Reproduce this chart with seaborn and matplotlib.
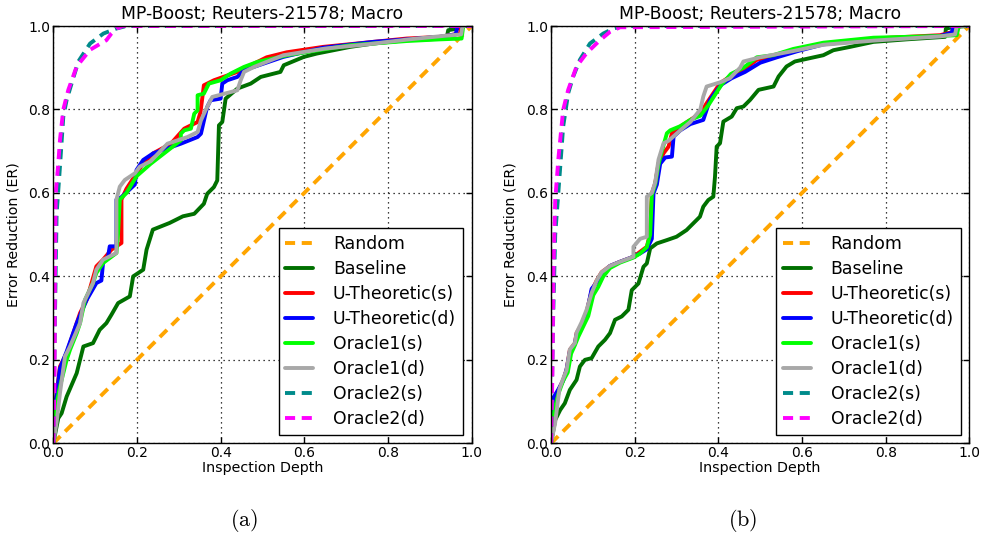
import numpy as np
import matplotlib
matplotlib.use("Agg")
import matplotlib.pyplot as plt
import seaborn as sns

# ---------------- data ----------------
TITLE = "MP-Boost; Reuters-21578; Macro"
XLABEL = "Inspection Depth"
YLABEL = "Error Reduction (ER)"
CAPTIONS = ["(a)", "(b)"]
SERIES = ["Random", "Baseline", "U-Theoretic(s)", "U-Theoretic(d)",
          "Oracle1(s)", "Oracle1(d)", "Oracle2(s)", "Oracle2(d)"]
TICKS = [0.0, 0.2, 0.4, 0.6, 0.8, 1.0]

random_x = [0.0, 1.0]
random_y = [0.0, 1.0]

# ---- panel (a) ----
a_base_x = [0, 0.012, 0.02, 0.032, 0.056, 0.064, 0.072, 0.095, 0.111, 0.127, 0.139, 0.155, 0.183, 0.191, 0.215, 0.223,
            0.238, 0.278, 0.31, 0.337, 0.36, 0.368, 0.384, 0.392, 0.396, 0.404, 0.412, 0.44, 0.472, 0.496, 0.543, 0.551,
            0.599, 0.63, 0.71, 0.765, 0.845, 0.94, 0.944, 0.968, 0.97, 1.0]
a_base_y = [0, 0.06, 0.072, 0.112, 0.168, 0.2, 0.232, 0.24, 0.272, 0.288, 0.308, 0.336, 0.352, 0.4, 0.416, 0.464,
            0.512, 0.528, 0.544, 0.55, 0.574, 0.598, 0.614, 0.63, 0.762, 0.77, 0.826, 0.85, 0.862, 0.878, 0.89, 0.906,
            0.926, 0.934, 0.95, 0.958, 0.966, 0.97, 0.99, 0.994, 1.0, 1.0]

a_uts_x = [0, 0.006, 0.016, 0.032, 0.048, 0.064, 0.08, 0.103, 0.119, 0.139, 0.163, 0.163, 0.175, 0.199, 0.215, 0.239,
           0.281, 0.313, 0.345, 0.352, 0.36, 0.384, 0.44, 0.464, 0.51, 0.558, 0.645, 0.765, 0.845, 0.924, 0.972, 0.976, 1.0]
a_uts_y = [0, 0.104, 0.184, 0.216, 0.264, 0.312, 0.344, 0.424, 0.44, 0.464, 0.48, 0.584, 0.61, 0.647, 0.671, 0.695,
           0.718, 0.754, 0.77, 0.794, 0.858, 0.87, 0.89, 0.902, 0.925, 0.937, 0.95, 0.962, 0.97, 0.974, 0.982, 1.0, 1.0]

a_utd_x = [0, 0.006, 0.016, 0.032, 0.056, 0.08, 0.103, 0.115, 0.119, 0.131, 0.135, 0.151, 0.151, 0.163, 0.179, 0.195,
           0.199, 0.215, 0.239, 0.305, 0.345, 0.353, 0.364, 0.368, 0.376, 0.4, 0.404, 0.416, 0.44, 0.456, 0.55, 0.645,
           0.765, 0.845, 0.924, 0.962, 0.966, 1.0]
a_utd_y = [0, 0.1, 0.18, 0.22, 0.288, 0.344, 0.384, 0.39, 0.432, 0.448, 0.472, 0.472, 0.584, 0.59, 0.605, 0.62,
           0.655, 0.679, 0.695, 0.718, 0.734, 0.742, 0.79, 0.806, 0.822, 0.826, 0.862, 0.87, 0.878, 0.894, 0.926, 0.948,
           0.962, 0.968, 0.974, 0.98, 1.0, 1.0]

a_o1s_x = [0, 0.004, 0.008, 0.016, 0.032, 0.04, 0.056, 0.064, 0.076, 0.095, 0.103, 0.119, 0.151, 0.155, 0.159, 0.175,
           0.199, 0.233, 0.305, 0.305, 0.313, 0.329, 0.337, 0.345, 0.345, 0.36, 0.372, 0.4, 0.424, 0.456, 0.488, 0.56,
           0.608, 0.71, 0.845, 0.924, 0.976, 0.98, 1.0]
a_o1s_y = [0, 0.06, 0.096, 0.136, 0.2, 0.224, 0.264, 0.288, 0.344, 0.384, 0.408, 0.432, 0.456, 0.504, 0.584, 0.6,
           0.64, 0.67, 0.726, 0.742, 0.75, 0.754, 0.79, 0.798, 0.834, 0.838, 0.862, 0.87, 0.886, 0.902, 0.914, 0.93,
           0.938, 0.954, 0.964, 0.968, 0.97, 1.0, 1.0]

a_o1d_x = [0, 0.008, 0.016, 0.028, 0.04, 0.064, 0.072, 0.095, 0.103, 0.119, 0.151, 0.151, 0.159, 0.171, 0.195, 0.207,
           0.233, 0.273, 0.321, 0.345, 0.353, 0.364, 0.38, 0.44, 0.448, 0.456, 0.48, 0.55, 0.65, 0.75, 0.85, 0.93,
           0.975, 0.978, 1.0]
a_o1d_y = [0, 0.05, 0.12, 0.208, 0.232, 0.288, 0.336, 0.384, 0.416, 0.44, 0.456, 0.584, 0.615, 0.631, 0.647, 0.663,
           0.676, 0.718, 0.734, 0.746, 0.774, 0.798, 0.83, 0.846, 0.87, 0.89, 0.902, 0.93, 0.946, 0.956, 0.968, 0.976,
           0.98, 1.0, 1.0]

a_o2s_x = [0, 0.004, 0.008, 0.016, 0.024, 0.032, 0.044, 0.06, 0.088, 0.12, 0.151, 0.175, 1.0]
a_o2s_y = [0, 0.3, 0.55, 0.663, 0.783, 0.823, 0.863, 0.915, 0.958, 0.982, 0.994, 1.0, 1.0]

a_o2d_x = [0, 0.003, 0.004, 0.006, 0.012, 0.016, 0.024, 0.036, 0.056, 0.088, 0.127, 0.139, 0.151, 0.167, 1.0]
a_o2d_y = [0, 0.15, 0.4, 0.6, 0.67, 0.727, 0.8, 0.847, 0.903, 0.943, 0.966, 0.982, 0.994, 1.0, 1.0]

# ---- panel (b) ----
b_base_x = [0, 0.01, 0.022, 0.033, 0.045, 0.061, 0.069, 0.081, 0.097, 0.113, 0.129, 0.141, 0.153, 0.169, 0.185, 0.193,
            0.209, 0.221, 0.229, 0.237, 0.253, 0.277, 0.3, 0.324, 0.34, 0.356, 0.364, 0.376, 0.388, 0.392, 0.396, 0.404,
            0.412, 0.432, 0.444, 0.46, 0.476, 0.496, 0.532, 0.544, 0.563, 0.583, 0.619, 0.651, 0.675, 0.715, 0.771,
            0.85, 0.942, 0.944, 0.966, 1.0]
b_base_y = [0, 0.056, 0.08, 0.096, 0.128, 0.152, 0.184, 0.2, 0.204, 0.232, 0.248, 0.264, 0.296, 0.304, 0.32, 0.367,
            0.383, 0.423, 0.431, 0.467, 0.479, 0.487, 0.495, 0.511, 0.527, 0.543, 0.567, 0.583, 0.591, 0.639, 0.711, 0.719,
            0.771, 0.783, 0.803, 0.807, 0.823, 0.847, 0.855, 0.879, 0.903, 0.915, 0.923, 0.93, 0.942, 0.95, 0.962,
            0.968, 0.974, 0.994, 0.998, 1.0]

b_uts_x = [0, 0.008, 0.018, 0.029, 0.037, 0.045, 0.057, 0.061, 0.073, 0.085, 0.097, 0.109, 0.121, 0.141, 0.165, 0.197,
           0.213, 0.229, 0.237, 0.241, 0.249, 0.257, 0.269, 0.281, 0.289, 0.309, 0.333, 0.357, 0.372, 0.388, 0.404,
           0.428, 0.46, 0.492, 0.531, 0.579, 0.651, 0.771, 0.93, 0.962, 0.966, 1.0]
b_uts_y = [0, 0.1, 0.128, 0.152, 0.176, 0.224, 0.24, 0.264, 0.285, 0.315, 0.365, 0.39, 0.41, 0.425, 0.435, 0.447,
           0.459, 0.471, 0.503, 0.599, 0.623, 0.671, 0.695, 0.711, 0.743, 0.759, 0.775, 0.791, 0.815, 0.839, 0.863,
           0.879, 0.895, 0.919, 0.927, 0.942, 0.958, 0.97, 0.978, 0.986, 1.0, 1.0]

b_utd_x = [0, 0.006, 0.018, 0.029, 0.037, 0.045, 0.057, 0.061, 0.073, 0.085, 0.097, 0.109, 0.121, 0.141, 0.165, 0.197,
           0.213, 0.229, 0.241, 0.245, 0.253, 0.261, 0.273, 0.289, 0.293, 0.309, 0.333, 0.364, 0.38, 0.392, 0.408,
           0.432, 0.464, 0.5, 0.54, 0.59, 0.651, 0.771, 0.93, 0.958, 0.962, 1.0]
b_utd_y = [0, 0.11, 0.13, 0.15, 0.176, 0.22, 0.238, 0.26, 0.28, 0.31, 0.37, 0.385, 0.405, 0.425, 0.435, 0.447,
           0.455, 0.465, 0.49, 0.599, 0.62, 0.67, 0.685, 0.687, 0.735, 0.75, 0.765, 0.775, 0.823, 0.84, 0.86,
           0.875, 0.89, 0.912, 0.925, 0.94, 0.956, 0.968, 0.976, 0.984, 1.0, 1.0]

b_o1s_x = [0, 0.008, 0.018, 0.029, 0.04, 0.048, 0.057, 0.065, 0.077, 0.089, 0.101, 0.113, 0.125, 0.141, 0.165, 0.197,
           0.213, 0.229, 0.237, 0.241, 0.249, 0.257, 0.265, 0.277, 0.285, 0.309, 0.333, 0.357, 0.376, 0.392, 0.408,
           0.43, 0.46, 0.492, 0.531, 0.579, 0.651, 0.771, 0.93, 0.97, 0.975, 1.0]
b_o1s_y = [0, 0.08, 0.12, 0.15, 0.17, 0.215, 0.235, 0.255, 0.28, 0.305, 0.355, 0.375, 0.4, 0.42, 0.433, 0.445,
           0.455, 0.47, 0.5, 0.595, 0.62, 0.668, 0.7, 0.743, 0.75, 0.76, 0.775, 0.785, 0.81, 0.835, 0.86,
           0.885, 0.9, 0.925, 0.93, 0.945, 0.96, 0.972, 0.976, 0.978, 1.0, 1.0]

b_o1d_x = [0, 0.01, 0.02, 0.029, 0.037, 0.045, 0.057, 0.061, 0.073, 0.085, 0.097, 0.109, 0.121, 0.141, 0.165, 0.197,
           0.197, 0.213, 0.229, 0.229, 0.241, 0.249, 0.257, 0.269, 0.281, 0.309, 0.333, 0.357, 0.364, 0.372, 0.404,
           0.428, 0.452, 0.46, 0.5, 0.579, 0.651, 0.771, 0.93, 0.966, 0.97, 1.0]
b_o1d_y = [0, 0.05, 0.13, 0.155, 0.175, 0.225, 0.24, 0.265, 0.29, 0.32, 0.36, 0.39, 0.41, 0.425, 0.435, 0.447,
           0.471, 0.49, 0.495, 0.591, 0.6, 0.625, 0.68, 0.719, 0.725, 0.75, 0.77, 0.8, 0.831, 0.855, 0.865,
           0.875, 0.9, 0.915, 0.925, 0.94, 0.955, 0.965, 0.975, 0.98, 1.0, 1.0]

b_o2s_x = [0, 0.005, 0.01, 0.022, 0.029, 0.041, 0.053, 0.069, 0.093, 0.125, 0.149, 0.173, 1.0]
b_o2s_y = [0, 0.3, 0.5, 0.663, 0.759, 0.839, 0.879, 0.919, 0.958, 0.982, 0.994, 1.0, 1.0]

b_o2d_x = [0, 0.003, 0.006, 0.01, 0.018, 0.029, 0.041, 0.061, 0.085, 0.117, 0.141, 0.165, 1.0]
b_o2d_y = [0, 0.15, 0.423, 0.583, 0.687, 0.799, 0.847, 0.903, 0.935, 0.966, 0.986, 0.997, 1.0]

PANELS = [
    [(random_x, random_y), (a_base_x, a_base_y), (a_uts_x, a_uts_y), (a_utd_x, a_utd_y),
     (a_o1s_x, a_o1s_y), (a_o1d_x, a_o1d_y), (a_o2s_x, a_o2s_y), (a_o2d_x, a_o2d_y)],
    [(random_x, random_y), (b_base_x, b_base_y), (b_uts_x, b_uts_y), (b_utd_x, b_utd_y),
     (b_o1s_x, b_o1s_y), (b_o1d_x, b_o1d_y), (b_o2s_x, b_o2s_y), (b_o2d_x, b_o2d_y)],
]

# ---------------- style ----------------
COLORS = ["#FFA500", "#007000", "#FF0000", "#0000FF", "#00FF00", "#A8A8A8", "#008B8B", "#FF00FF"]
DASHED = [True, False, False, False, False, False, True, True]
LW = 2.8

sns.set_theme(style="white")
plt.rcParams["font.family"] = ["DejaVu Sans"]
plt.rcParams.update({
    "xtick.direction": "in", "ytick.direction": "in",
    "xtick.top": True, "ytick.right": True,
    "xtick.bottom": True, "ytick.left": True,
    "xtick.major.size": 4.5, "ytick.major.size": 4.5,
    "xtick.major.width": 1.0, "ytick.major.width": 1.0,
    "xtick.color": "black", "ytick.color": "black",
    "axes.edgecolor": "black", "axes.linewidth": 1.0,
    "text.color": "black", "axes.labelcolor": "black",
})

fig = plt.figure(figsize=(9.9, 5.33), dpi=100)
positions = [[0.0538, 0.1683, 0.4226, 0.7829], [0.5566, 0.1683, 0.4225, 0.7829]]
cap_x = [244 / 990, 743 / 990]

for p, (pos, data) in enumerate(zip(positions, PANELS)):
    ax = fig.add_axes(pos)
    for (xs, ys), name, col, dsh in zip(data, SERIES, COLORS, DASHED):
        kw = dict(linestyle=(0, (2.6, 1.7))) if dsh else dict(linestyle="-")
        sns.lineplot(x=xs, y=ys, ax=ax, color=col, linewidth=LW, label=name,
                     sort=False, estimator=None, **kw)
    ax.set_xlim(0, 1)
    ax.set_ylim(0, 1)
    ax.set_xticks(TICKS)
    ax.set_yticks(TICKS)
    ax.set_xticklabels([f"{t:.1f}" for t in TICKS], fontsize=10)
    ax.set_yticklabels([f"{t:.1f}" for t in TICKS], fontsize=10)
    ax.tick_params(axis="x", pad=2)
    ax.tick_params(axis="y", pad=2)
    ax.grid(True, color="black", linestyle=(0, (1, 3)), linewidth=0.9)
    ax.set_axisbelow(True)
    ax.set_title(TITLE, fontsize=12.4, pad=5)
    ax.set_xlabel(XLABEL, fontsize=10.3, labelpad=1)
    ax.set_ylabel(YLABEL, fontsize=10.3, labelpad=6)
    for s in ax.spines.values():
        s.set_visible(True)
        s.set_color("black")
    leg = ax.legend(loc="lower right", bbox_to_anchor=(0.979, 0.02), borderaxespad=0,
                    fontsize=12.4, frameon=True, fancybox=False, framealpha=1,
                    edgecolor="black", handlelength=1.6, handletextpad=1.15,
                    labelspacing=0.41, borderpad=0.4)
    leg.get_frame().set_linewidth(1.0)
    fig.text(cap_x[p], (533 - 521) / 533, r"$\mathrm{" + CAPTIONS[p] + "}$",
             fontsize=16, ha="center", va="center", math_fontfamily="cm")

fig.savefig("out.png", dpi=100)
